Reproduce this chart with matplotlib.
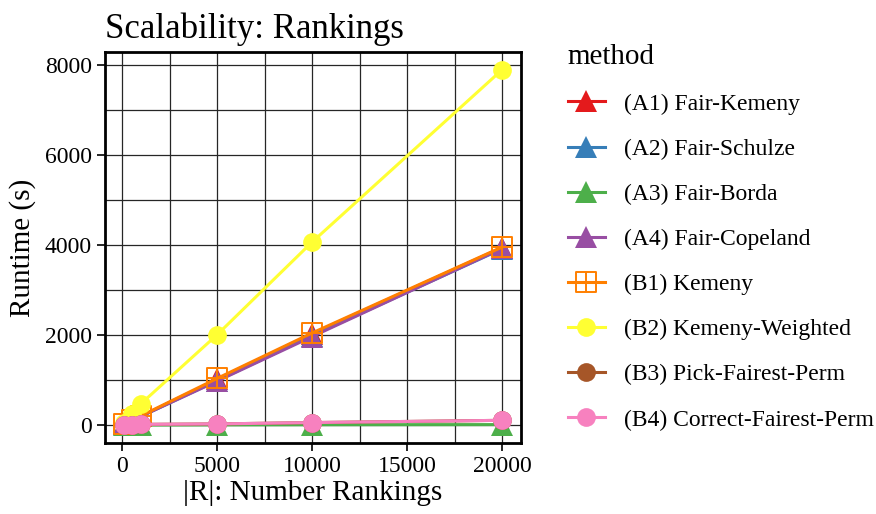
import matplotlib

matplotlib.use("Agg")
import matplotlib.pyplot as plt
from matplotlib.path import Path
from matplotlib.ticker import MultipleLocator

plt.rcParams["font.family"] = ["Liberation Serif", "DejaVu Serif"]

n_rankings = [100, 500, 1000, 5000, 10000, 20000]
methods = [
    "(A1) Fair-Kemeny",
    "(A2) Fair-Schulze",
    "(A3) Fair-Borda",
    "(A4) Fair-Copeland",
    "(B1) Kemeny",
    "(B2) Kemeny-Weighted",
    "(B3) Pick-Fairest-Perm",
    "(B4) Correct-Fairest-Perm",
]
runtime_a1 = [20, 100, 200, 1020, 2030, 3950]
runtime_a2 = [20, 100, 200, 990, 1990, 3920]
runtime_a3 = [1, 2, 4, 8, 12, 15]
runtime_a4 = [20, 100, 200, 980, 1970, 3930]
runtime_b1 = [30, 110, 210, 1040, 2050, 3960]
runtime_b2 = [50, 250, 480, 2010, 4070, 7900]
runtime_b3 = [2, 10, 20, 30, 60, 110]
runtime_b4 = [2, 10, 20, 30, 60, 110]

colors = ["#e41a1c", "#377eb8", "#4daf4a", "#984ea3",
          "#ff7f00", "#ffff33", "#a65628", "#f781bf"]

# open square with a cross inside
boxplus = Path(
    [(-1, -1), (1, -1), (1, 1), (-1, 1), (-1, -1), (0, -1), (0, 1), (-1, 0), (1, 0)],
    [Path.MOVETO, Path.LINETO, Path.LINETO, Path.LINETO, Path.CLOSEPOLY,
     Path.MOVETO, Path.LINETO, Path.MOVETO, Path.LINETO],
)
markers = ["^", "^", "^", "^", boxplus, "o", "o", "o"]

fig = plt.figure(figsize=(8.76, 5.14), dpi=100)
ax = fig.add_axes([105 / 876, 71 / 514, 416 / 876, 391 / 514])

series = [runtime_a1, runtime_a2, runtime_a3, runtime_a4,
          runtime_b1, runtime_b2, runtime_b3, runtime_b4]
for name, vals, col, mk in zip(methods, series, colors, markers):
    if mk is boxplus:
        ax.plot(n_rankings, vals, color=col, lw=2.2, marker=mk, markersize=14,
                markerfacecolor="none", markeredgecolor=col, markeredgewidth=1.4, label=name)
    elif mk == "^":
        ax.plot(n_rankings, vals, color=col, lw=2.2, marker=mk, markersize=16,
                markeredgewidth=0, label=name)
    else:
        ax.plot(n_rankings, vals, color=col, lw=2.2, marker=mk, markersize=13.5,
                markeredgewidth=0, label=name)

ax.xaxis.set_major_locator(MultipleLocator(5000))
ax.xaxis.set_minor_locator(MultipleLocator(2500))
ax.yaxis.set_major_locator(MultipleLocator(2000))
ax.yaxis.set_minor_locator(MultipleLocator(1000))
ax.grid(which="both", color="0.15", lw=0.9)
ax.set_axisbelow(True)
ax.tick_params(which="major", length=6, width=1.2, labelsize=17, direction="out")
ax.tick_params(which="minor", length=0)
for s in ax.spines.values():
    s.set_linewidth(2)

ax.set_title("Scalability: Rankings", fontsize=25, loc="left", pad=10)
ax.set_xlabel("|R|: Number Rankings", fontsize=21, labelpad=2)
ax.set_ylabel("Runtime (s)", fontsize=21, labelpad=6)

leg = fig.legend(loc="upper left", bbox_to_anchor=(551 / 876, 1 - 27 / 514),
                 frameon=False, title="method", fontsize=17, title_fontsize=21,
                 labelspacing=1.0, handlelength=1.6, handletextpad=0.8,
                 borderpad=0.2, alignment="left", markerscale=1.0)

fig.savefig("out.png", dpi=100, facecolor="white")
